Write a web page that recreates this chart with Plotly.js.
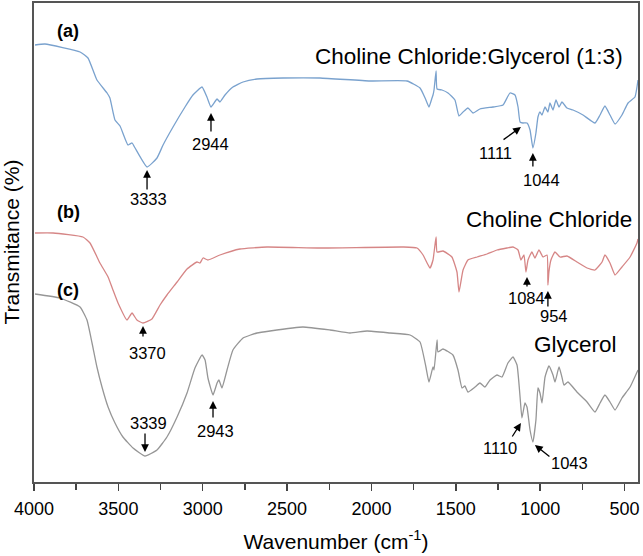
<!DOCTYPE html>
<html>
<head>
<meta charset="utf-8">
<script src="https://cdn.plot.ly/plotly-3.0.1.min.js"></script>
<style>html,body{margin:0;padding:0;background:#fff;}#chart{width:643px;height:556px;}</style>
</head>
<body>
<div id="chart"></div>
<script>
// (a) Choline Chloride:Glycerol (1:3)
const wnA = [3994,3935,3727,3680,3627,3567,3550,3520,3490,3443,3419,3401,3330,3271,3235,3176,3105,3058,3004,2975,2951,2915,2898,2868,2821,2761,2678,2524,2305,2009,1789,1712,1682,1659,1641,1635,1629,1617,1611,1582,1546,1505,1481,1457,1428,1398,1357,1280,1220,1179,1149,1131,1119,1102,1078,1060,1043,1025,1013,1001,989,971,954,942,924,906,888,871,841,805,746,675,645,616,586,556,515,479,438,420];
const tA = [87.4,87.6,86.0,84.8,80.4,77.8,76.8,72.4,71.2,67.4,67.8,66.8,63.0,64.8,67.4,71.0,75.0,77.4,79.0,77.0,75.0,76.6,76.0,77.4,79.0,80.0,80.6,80.8,80.8,80.2,80.2,78.8,76.8,75.0,76.8,77.4,78.4,82.2,78.6,78.4,77.8,76.4,73.2,74.0,74.8,73.8,74.6,75.0,75.4,77.8,77.4,75.0,72.0,71.8,71.8,70.4,66.8,69.8,73.0,74.0,73.4,75.0,74.0,75.8,74.4,76.4,75.0,76.0,74.8,74.4,73.4,71.8,73.4,75.2,73.4,71.6,73.4,75.8,77.0,80.4];
// (b) Choline Chloride
const wnB = [3994,3887,3710,3668,3609,3561,3532,3502,3449,3419,3390,3354,3301,3253,3212,3152,3093,3034,3016,2998,2969,2898,2779,2619,2305,1813,1730,1694,1653,1635,1617,1611,1576,1523,1493,1481,1457,1428,1374,1315,1256,1197,1161,1131,1114,1096,1084,1072,1049,1031,1007,983,959,954,948,936,912,882,841,782,722,675,633,616,586,556,515,467,426,420];
const tB = [49.8,49.8,49.0,47.8,43.8,41.0,38.4,35.8,32.4,33.8,32.4,31.8,32.6,35.4,37.4,40.0,42.6,44.0,43.8,44.8,44.4,45.4,46.6,47.0,46.8,47.0,46.8,45.4,42.8,44.4,49.0,46.0,46.2,45.0,42.0,38.0,42.4,44.4,45.0,45.6,46.4,46.8,47.0,46.4,44.4,45.4,42.0,44.4,46.0,44.8,46.4,45.0,45.4,39.4,42.0,44.4,46.0,45.0,45.2,44.0,42.8,42.4,44.0,45.4,43.8,41.4,43.0,45.0,47.8,48.6];
// (c) Glycerol
const wnC = [3994,3846,3727,3686,3656,3627,3597,3561,3520,3473,3413,3342,3271,3212,3152,3093,3046,3004,2986,2969,2939,2915,2904,2886,2856,2821,2761,2678,2601,2406,2246,2127,2026,1890,1771,1712,1677,1659,1635,1629,1611,1606,1576,1517,1487,1463,1446,1428,1386,1357,1327,1297,1256,1226,1191,1161,1137,1119,1108,1090,1078,1060,1043,1025,1013,1001,989,971,948,924,912,888,871,859,835,782,722,675,645,616,586,556,515,467,420];
const tC = [37.6,36.8,35.0,32.4,27.8,23.0,19.0,15.0,11.8,9.0,6.8,5.2,6.4,9.0,13.0,17.8,22.8,25.4,24.4,20.8,17.4,19.8,20.4,18.8,22.4,26.4,28.8,29.8,30.2,31.0,30.4,29.8,30.2,29.8,29.4,28.0,23.0,20.0,23.0,22.4,28.4,26.0,26.6,25.4,22.4,18.8,19.2,18.0,19.0,19.8,19.0,20.4,21.4,21.0,23.8,25.0,23.4,17.0,12.8,15.8,15.0,10.4,8.0,12.4,18.8,17.8,15.8,21.0,23.2,21.4,20.0,23.0,21.0,19.4,20.0,18.0,16.0,14.0,15.8,17.4,16.0,14.4,16.8,19.0,22.4];

const seriesNames = ['Choline Chloride:Glycerol (1:3)', 'Choline Chloride', 'Glycerol'];
const panelTags = ['(a)', '(b)', '(c)'];
const peakLabels = ['3333','2944','1111','1044','3370','1084','954','3339','2943','1110','1043'];
const xTickVals = [4000,3500,3000,2500,2000,1500,1000,500];
const xTickText = ['4000','3500','3000','2500','2000','1500','1000','500'];

const FONT = 'Liberation Sans, Arial, sans-serif';

const traces = [
  {x: wnA, y: tA, mode: 'lines', line: {color: 'rgb(122,162,206)', width: 1.3, shape: 'spline', smoothing: 0.4}, name: seriesNames[0], hoverinfo: 'skip'},
  {x: wnB, y: tB, mode: 'lines', line: {color: 'rgb(214,134,134)', width: 1.3, shape: 'spline', smoothing: 0.4}, name: seriesNames[1], hoverinfo: 'skip'},
  {x: wnC, y: tC, mode: 'lines', line: {color: 'rgb(150,150,150)', width: 1.3, shape: 'spline', smoothing: 0.4}, name: seriesNames[2], hoverinfo: 'skip'}
];

function txt(text, x, y, size, bold, anchor) {
  return {text: bold ? '<b>' + text + '</b>' : text, x: x, y: y, xref: 'x', yref: 'y',
    showarrow: false, xanchor: anchor || 'center', yanchor: 'middle',
    font: {family: FONT, size: size, color: '#000'}};
}
function arrow(xh, yh, xt, yt) {
  return {text: '', x: xh, y: yh, ax: xt, ay: yt, xref: 'x', yref: 'y', axref: 'x', ayref: 'y',
    showarrow: true, arrowhead: 2, arrowsize: 1.2, arrowwidth: 1.3, arrowcolor: '#000',
    standoff: 0, startstandoff: 0, borderpad: 0, font: {size: 1}};
}

const annotations = [
  txt(panelTags[0], 3798, 90.2, 18, true),
  txt(panelTags[1], 3793, 54.0, 18, true),
  txt(panelTags[2], 3798, 38.4, 18, true),
  txt(seriesNames[0], 1422, 85.2, 22.5, false),
  txt(seriesNames[1], 948, 52.6, 22.5, false),
  txt(seriesNames[2], 793, 27.6, 22.5, false),
  txt(peakLabels[0], 3324, 56.6, 16.5),
  txt(peakLabels[1], 2951, 67.6, 16.5),
  txt(peakLabels[2], 1262, 65.8, 16.5),
  txt(peakLabels[3], 992, 60.4, 16.5),
  txt(peakLabels[4], 3327, 25.8, 16.5),
  txt(peakLabels[5], 1081, 36.8, 16.5),
  txt(peakLabels[6], 918, 33.2, 16.5),
  txt(peakLabels[7], 3324, 11.8, 16.5),
  txt(peakLabels[8], 2927, 10.2, 16.5),
  txt(peakLabels[9], 1238, 6.8, 16.5),
  txt(peakLabels[10], 829, 3.8, 16.5),
  arrow(3330, 62.4, 3330, 58.4),
  arrow(2951, 73.8, 2951, 70.0),
  arrow(1114, 71.0, 1220, 68.4),
  arrow(1043, 65.8, 1043, 63.0),
  arrow(3354, 31.2, 3354, 29.0),
  arrow(1078, 41.0, 1078, 39.0),
  arrow(954, 38.2, 954, 35.0),
  arrow(3342, 6.0, 3342, 9.8),
  arrow(2939, 16.2, 2939, 12.8),
  arrow(1114, 11.8, 1167, 9.0),
  arrow(1031, 7.4, 942, 5.0),
  {text: 'Transmitance (%)', xref: 'paper', yref: 'paper', x: -0.038, y: 0.50,
   xanchor: 'center', yanchor: 'middle', textangle: -90, showarrow: false,
   font: {family: FONT, size: 21, color: '#000'}}
];

const layout = {
  width: 643, height: 556,
  margin: {l: 34, r: 5, t: 3, b: 74},
  paper_bgcolor: '#fff', plot_bgcolor: '#fff',
  showlegend: false,
  font: {family: FONT, color: '#000'},
  xaxis: {
    range: [4000, 420], autorange: false,
    tickvals: xTickVals, ticktext: xTickText,
    ticks: 'outside', ticklen: 7, tickwidth: 1.5, tickcolor: '#444',
    ticklabelstandoff: 3,
    minor: {dtick: 250, tick0: 0, ticks: 'outside', ticklen: 6, tickwidth: 1.5, tickcolor: '#444'},
    showgrid: false, zeroline: false,
    showline: true, linecolor: '#555', linewidth: 1.6, mirror: true,
    tickfont: {family: FONT, size: 18, color: '#000'},
    title: {text: 'Wavenumber (cm<sup>-1</sup>)', font: {family: FONT, size: 21, color: '#000'}, standoff: 16}
  },
  yaxis: {
    range: [0, 95.8], autorange: false,
    showticklabels: false, ticks: '', showgrid: false, zeroline: false,
    showline: true, linecolor: '#555', linewidth: 1.6, mirror: true
  },
  annotations: annotations
};

Plotly.newPlot('chart', traces, layout, {staticPlot: true, displayModeBar: false});
</script>
</body>
</html>
